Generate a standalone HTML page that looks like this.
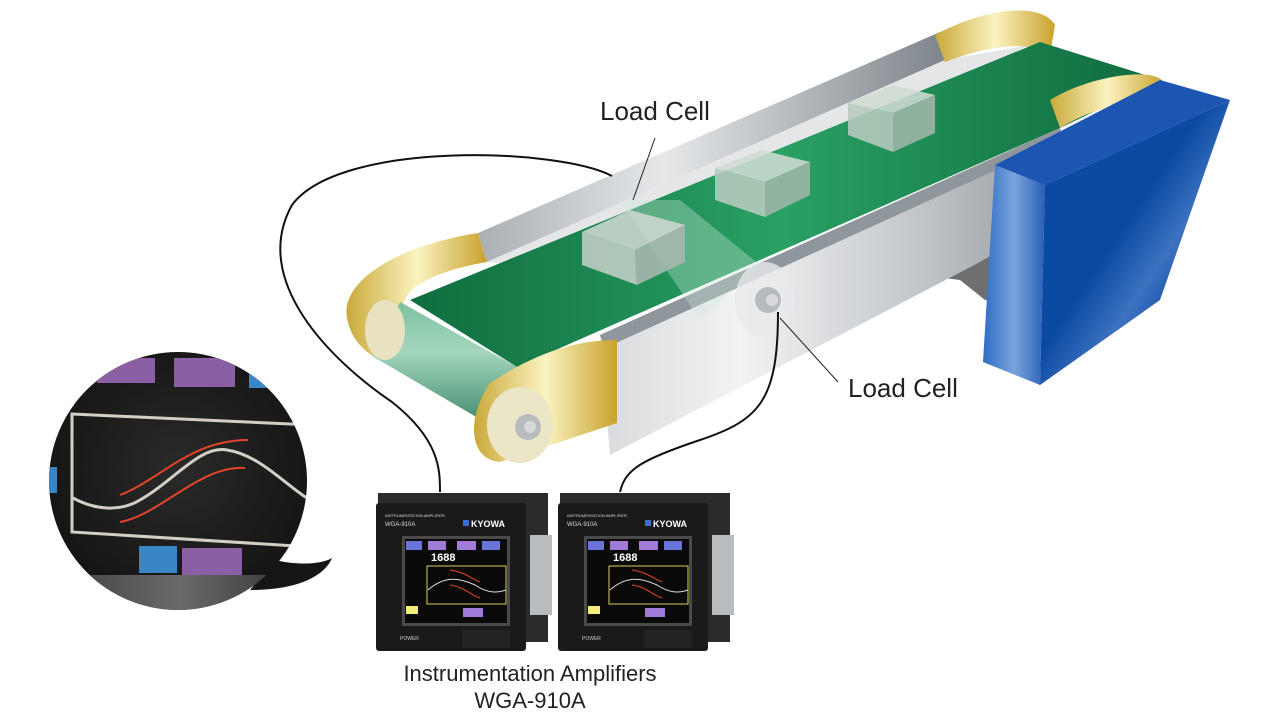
<!DOCTYPE html>
<html><head><meta charset="utf-8"><style>
html,body{margin:0;padding:0;background:#fff;}
svg{display:block}
text{font-family:"Liberation Sans",sans-serif;}
</style></head><body>
<svg width="1280" height="720" viewBox="0 0 1280 720" xmlns="http://www.w3.org/2000/svg">
<defs>
<linearGradient id="gold" x1="0" y1="0" x2="1" y2="0"><stop offset="0" stop-color="#c9a93a"/><stop offset=".5" stop-color="#fbf3c0"/><stop offset="1" stop-color="#c8a22c"/></linearGradient>
<linearGradient id="silver" x1="0" y1="0" x2="1" y2="0"><stop offset="0" stop-color="#d8dadd"/><stop offset=".3" stop-color="#f2f3f4"/><stop offset=".7" stop-color="#bfc3c7"/><stop offset="1" stop-color="#8e9499"/></linearGradient>
<linearGradient id="rail" x1="0" y1="0" x2="1" y2="0"><stop offset="0" stop-color="#a9afb4"/><stop offset=".4" stop-color="#e6e8ea"/><stop offset="1" stop-color="#7d858b"/></linearGradient>
<linearGradient id="green" x1="0" y1="0" x2="1" y2="0"><stop offset="0" stop-color="#0f6d3f"/><stop offset=".5" stop-color="#2aa064"/><stop offset="1" stop-color="#0f6b3e"/></linearGradient>
<linearGradient id="roll" x1="0" y1="0" x2="0" y2="1"><stop offset="0" stop-color="#7cc2a1"/><stop offset=".4" stop-color="#a4d6bd"/><stop offset="1" stop-color="#3f8a6b"/></linearGradient>
<linearGradient id="blueL" x1="0" y1="0" x2="1" y2="0"><stop offset="0" stop-color="#2f6cc6"/><stop offset=".5" stop-color="#7aa4dc"/><stop offset="1" stop-color="#2a5fb8"/></linearGradient>
<linearGradient id="blueF" x1="0" y1="0" x2="1" y2="1"><stop offset="0" stop-color="#0b4aa3"/><stop offset=".45" stop-color="#0b4aa3"/><stop offset=".6" stop-color="#3d72c0"/><stop offset=".75" stop-color="#0b4aa3"/><stop offset="1" stop-color="#0a48a0"/></linearGradient>
<radialGradient id="circ" cx=".5" cy=".45" r=".6"><stop offset="0" stop-color="#2a2a2a"/><stop offset="1" stop-color="#121212"/></radialGradient>
<linearGradient id="gband" x1="0" y1="0" x2="1" y2="0"><stop offset="0" stop-color="#3a3a3a"/><stop offset=".5" stop-color="#6a6a6a"/><stop offset="1" stop-color="#2a2a2a"/></linearGradient>
<clipPath id="cc"><circle cx="178" cy="481" r="129"/></clipPath>
</defs>

<polygon points="915,255 1000,215 1000,300 985,300 960,280 920,275" fill="#6f6f6f"/>
<polygon points="478,233 940,32 945,60 487,262" fill="url(#rail)"/>
<polygon points="487,262 945,60 1030,45 560,270" fill="#e4e6e8"/>
<path d="M935,35 C980,10 1040,0 1055,25 L1050,55 C1030,40 990,45 945,62 Z" fill="url(#gold)"/>
<polygon points="410,300 1040,42 1145,75 1150,85 1060,128 517,367" fill="url(#green)"/>
<path d="M1050,100 C1090,75 1160,65 1165,85 L1155,110 C1120,100 1090,110 1060,128 Z" fill="url(#gold)"/>
<polygon points="600,335 1060,128 1070,165 1000,250 980,262 610,455" fill="url(#silver)"/>
<polygon points="600,335 1060,128 1062,140 605,348" fill="#8f969c"/>
<path d="M347,318 C340,280 400,245 478,233 L487,262 C440,270 410,285 405,300 L380,360 C360,350 350,335 347,318 Z" fill="url(#gold)"/>
<polygon points="400,302 517,367 490,425 372,356" fill="url(#roll)"/>
<ellipse cx="385" cy="330" rx="20" ry="30" fill="#e8e2c0"/>
<path d="M490,383 C540,350 580,340 617,340 L617,423 L500,462 C470,460 465,420 490,383 Z" fill="url(#gold)"/>
<ellipse cx="520" cy="425" rx="33" ry="38" fill="#ece6c8"/>
<circle cx="528" cy="427" r="13" fill="#b9bcbf"/>
<circle cx="530" cy="427" r="6" fill="#d6d8da"/>
<ellipse cx="765" cy="300" rx="30" ry="38" fill="#e8eaec" opacity=".8"/>
<circle cx="768" cy="300" r="13" fill="#b7bbbf"/>
<circle cx="772" cy="300" r="6" fill="#d8dadc"/>
<polygon points="620,200 680,200 760,265 700,320" fill="#cfe9dc" opacity=".35"/>
<!-- blue box -->
<polygon points="995,165 1160,80 1230,100 1045,185" fill="#1d55b3"/>
<polygon points="995,165 1045,185 1040,385 983,362" fill="url(#blueL)"/>
<polygon points="1045,185 1230,100 1160,300 1040,385" fill="url(#blueF)"/>
<g opacity=".88">
<polygon points="582,232 630,210 685,225 635,250" fill="#cfd8d2"/>
<polygon points="582,232 635,250 637,285 582,265" fill="#c2cec7"/>
<polygon points="635,250 685,225 685,262 637,285" fill="#a9b9b0"/>
<polygon points="715,168 762,150 810,162 765,182" fill="#cfdcd3"/>
<polygon points="715,168 765,182 765,217 715,200" fill="#b8cbbf"/>
<polygon points="765,182 810,162 810,195 765,217" fill="#9fb7a9"/>
<polygon points="848,103 892,85 935,95 893,113" fill="#cfdcd3"/>
<polygon points="848,103 893,113 893,152 848,135" fill="#b8cbbf"/>
<polygon points="893,113 935,95 935,133 893,152" fill="#9fb7a9"/>
</g>
<path d="M612,176 C560,148 340,140 292,205 C250,280 330,360 392,402 C440,440 440,470 440,492" fill="none" stroke="#111" stroke-width="2"/>
<path d="M778,312 C778,400 760,420 700,440 C640,460 625,470 620,492" fill="none" stroke="#111" stroke-width="2"/>
<line x1="655" y1="138" x2="633" y2="200" stroke="#222" stroke-width="1"/>
<line x1="780" y1="318" x2="838" y2="382" stroke="#222" stroke-width="1"/>
<text x="600" y="120" font-size="26" fill="#222">Load Cell</text>
<text x="848" y="397" font-size="26" fill="#222">Load Cell</text>

<path d="M275,560 C295,565 320,565 332,558 C325,575 300,590 250,590 Z" fill="#151515"/>
<circle cx="178" cy="481" r="129" fill="url(#circ)"/>
<g clip-path="url(#cc)">
<rect x="40" y="575" width="280" height="50" fill="url(#gband)"/>
<rect x="97" y="358" width="58" height="25" fill="#8a5fa3"/>
<rect x="174" y="358" width="61" height="29" fill="#8a5fa3"/>
<rect x="249" y="372" width="25" height="16" fill="#3a85c6"/>
<rect x="46" y="467" width="11" height="26" fill="#3a85c6"/>
<rect x="139" y="546" width="38" height="27" fill="#3a85c6"/>
<rect x="182" y="548" width="60" height="27" fill="#8a5fa3"/>
<polygon points="72,414 312,425 312,547 72,532" fill="none" stroke="#d4cfc6" stroke-width="3"/>
<path d="M73,498 C95,510 120,512 140,500 C175,480 200,445 227,450 C260,455 285,485 310,500" fill="none" stroke="#d4cfc6" stroke-width="3"/>
<path d="M120,495 C160,480 190,440 248,440" fill="none" stroke="#e0452a" stroke-width="2"/>
<path d="M120,522 C160,515 200,465 245,468" fill="none" stroke="#e0452a" stroke-width="2"/>
</g>

<g id="dev">
<rect x="378" y="493" width="170" height="14" fill="#2a2a2a"/>
<rect x="525" y="497" width="23" height="145" fill="#2b2b2b"/>
<rect x="530" y="535" width="22" height="80" fill="#b9bcbf"/>
<rect x="376" y="503" width="150" height="148" rx="3" fill="#1a1a1a"/>
<text x="385" y="517" font-size="4" fill="#ddd">INSTRUMENTATION AMPLIFIER</text>
<text x="385" y="526" font-size="6" fill="#ddd">WGA-910A</text>
<rect x="463" y="520" width="6" height="6" fill="#3a6fd0"/>
<text x="471" y="527" font-size="9" font-weight="bold" fill="#fff" font-family="Liberation Serif">KYOWA</text>
<rect x="402" y="536" width="108" height="90" fill="#4a4a4a"/>
<rect x="405" y="539" width="102" height="84" fill="#0a0a0a"/>
<rect x="406" y="541" width="16" height="9" fill="#6a73d8"/>
<rect x="428" y="541" width="18" height="9" fill="#a07cd8"/>
<rect x="457" y="541" width="19" height="9" fill="#a07cd8"/>
<rect x="482" y="541" width="18" height="9" fill="#6a73d8"/>
<text x="431" y="561" font-size="11" font-weight="bold" fill="#fff">1688</text>
<rect x="427" y="566" width="79" height="38" fill="none" stroke="#d8d050" stroke-width="1"/>
<path d="M428,590 C445,575 460,578 475,585 C490,595 500,592 506,590" fill="none" stroke="#ddd" stroke-width="1"/>
<path d="M450,570 C465,572 470,578 480,582" fill="none" stroke="#e0452a" stroke-width="1"/>
<path d="M450,585 C465,587 470,595 480,598" fill="none" stroke="#e0452a" stroke-width="1"/>
<rect x="406" y="606" width="12" height="8" fill="#f2f07a"/>
<rect x="463" y="608" width="20" height="9" fill="#a07cd8"/>
<text x="400" y="640" font-size="5" fill="#ccc">POWER</text>
<rect x="462" y="630" width="48" height="18" fill="#222"/>
</g>
<use href="#dev" transform="translate(182,0)"/>

<text x="530" y="681" font-size="22" fill="#222" text-anchor="middle">Instrumentation Amplifiers</text>
<text x="530" y="708" font-size="22" fill="#222" text-anchor="middle">WGA-910A</text>
</svg>
</body></html>
